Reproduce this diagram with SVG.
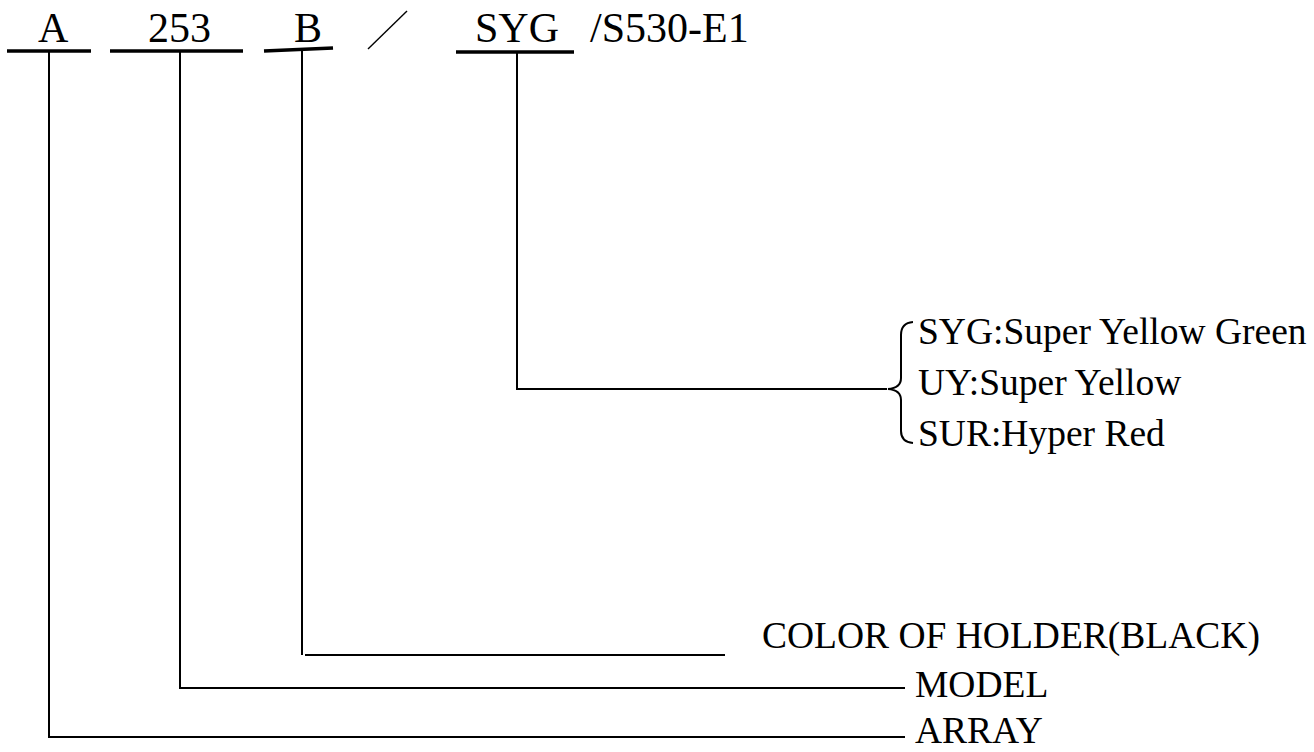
<svg xmlns="http://www.w3.org/2000/svg" width="1314" height="752" viewBox="0 0 1314 752">
<style>
.t{font-family:"Liberation Serif","Times New Roman",serif;fill:#000}
.top{font-size:42px}
.lbl{font-size:37.5px}
.ul{stroke:#000;stroke-width:3.4;fill:none}
.ln{stroke:#000;stroke-width:2;fill:none}
</style>
<rect width="1314" height="752" fill="#fff"/>
<g id="code">
<g id="seg-A"><text class="t top" x="38" y="42">A</text><line class="ul" x1="7" y1="51" x2="91" y2="51"/></g>
<g id="seg-253"><text class="t top" x="148" y="42">253</text><line class="ul" x1="110" y1="51" x2="243" y2="51"/></g>
<g id="seg-B"><text class="t top" x="294" y="42">B</text><line class="ul" x1="264" y1="51" x2="333" y2="48"/></g>
<g id="slash"><line stroke="#000" stroke-width="1.4" x1="368" y1="49" x2="407" y2="11"/></g>
<g id="seg-SYG"><text class="t top" x="475" y="42">SYG</text><line class="ul" x1="456" y1="52" x2="574" y2="52"/></g>
<g id="suffix"><text class="t top" x="590" y="42">/S530-E1</text></g>
</g>
<g id="connectors">
<polyline class="ln" points="49,51 49,737 905,737"/>
<polyline class="ln" points="180,51 180,688 905,688"/>
<line class="ln" x1="302" y1="50" x2="302" y2="655"/>
<line class="ln" x1="305" y1="655" x2="725" y2="655"/>
<polyline class="ln" points="517,52 517,389 887,389"/>
<path class="ln" stroke-width="1.6" d="M913 322 Q901 323 901 335 L901 378 Q901 388 888 389 Q901 390 901 400 L901 431 Q901 442 913 443"/>
</g>
<g id="label-color"><text class="t lbl" x="918" y="344">SYG:Super Yellow Green</text><text class="t lbl" x="918" y="395">UY:Super Yellow</text><text class="t lbl" x="918" y="446">SUR:Hyper Red</text></g>
<g id="label-holder"><text class="t lbl" x="762" y="648">COLOR OF HOLDER(BLACK)</text></g>
<g id="label-model"><text class="t lbl" x="915" y="697">MODEL</text></g>
<g id="label-array"><text class="t lbl" x="915" y="743">ARRAY</text></g>
</svg>
